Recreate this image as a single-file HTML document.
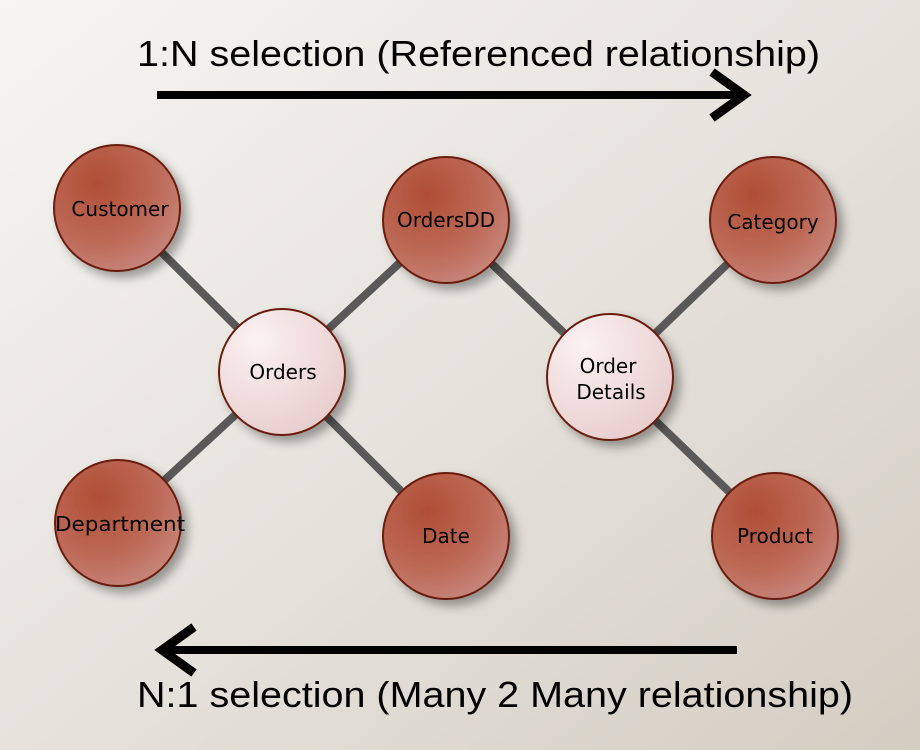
<!DOCTYPE html>
<html><head><meta charset="utf-8"><style>
html,body{margin:0;padding:0;width:920px;height:750px;overflow:hidden}
svg{display:block}
text{font-family:"DejaVu Sans","Liberation Sans",sans-serif}
</style></head><body>
<svg width="920" height="750" viewBox="0 0 920 750" xmlns="http://www.w3.org/2000/svg">
<defs>
<linearGradient id="bg" x1="0" y1="0" x2="1" y2="1">
<stop offset="0" stop-color="#f6f5f2"/><stop offset="0.5" stop-color="#e6e3dd"/><stop offset="1" stop-color="#d4cdc2"/>
</linearGradient>
<radialGradient id="dark" cx="0.35" cy="0.3" r="0.8">
<stop offset="0" stop-color="#b04e34"/><stop offset="0.6" stop-color="#bd6a58"/><stop offset="1" stop-color="#c98a80"/>
</radialGradient>
<radialGradient id="light" cx="0.3" cy="0.25" r="0.85">
<stop offset="0" stop-color="#fbf1f1"/><stop offset="1" stop-color="#e8cccc"/>
</radialGradient>
<filter id="sh" x="-30%" y="-30%" width="170%" height="170%"><feDropShadow dx="6" dy="6" stdDeviation="5" flood-color="#000" flood-opacity="0.35"/></filter>
</defs>
<rect width="920" height="750" fill="url(#bg)"/>
<g stroke="#595959" stroke-width="8">
<line x1="117" y1="208" x2="282" y2="372"/>
<line x1="118" y1="523" x2="282" y2="372"/>
<line x1="446" y1="220" x2="282" y2="372"/>
<line x1="446" y1="536" x2="282" y2="372"/>
<line x1="446" y1="220" x2="610" y2="377"/>
<line x1="773" y1="220" x2="610" y2="377"/>
<line x1="775" y1="536" x2="610" y2="377"/>
</g>
<g stroke="#6b1a10" stroke-width="2" filter="url(#sh)">
<circle cx="117" cy="208" r="63" fill="url(#dark)"/>
<circle cx="446" cy="220" r="63" fill="url(#dark)"/>
<circle cx="773" cy="220" r="63" fill="url(#dark)"/>
<circle cx="118" cy="523" r="63" fill="url(#dark)"/>
<circle cx="446" cy="536" r="63" fill="url(#dark)"/>
<circle cx="775" cy="536" r="63" fill="url(#dark)"/>
<circle cx="282" cy="372" r="63" fill="url(#light)"/>
<circle cx="610" cy="377" r="63" fill="url(#light)"/>
</g>
<g font-size="20" fill="#000" text-anchor="middle">
<text x="120" y="216">Customer</text>
<text x="446" y="227">OrdersDD</text>
<text x="773" y="229">Category</text>
<text x="120" y="531" textLength="130" lengthAdjust="spacingAndGlyphs">Department</text>
<text x="446" y="543">Date</text>
<text x="775" y="543">Product</text>
<text x="283" y="379">Orders</text>
<text x="608" y="373">Order</text>
<text x="611" y="399">Details</text>
</g>
<g font-size="36" fill="#000">
<text x="137" y="66" textLength="683" lengthAdjust="spacingAndGlyphs" style="font-family:'Liberation Sans',sans-serif">1:N selection (Referenced relationship)</text>
<text x="137" y="707" textLength="716" lengthAdjust="spacingAndGlyphs" style="font-family:'Liberation Sans',sans-serif">N:1 selection (Many 2 Many relationship)</text>
</g>
<g stroke="#000" stroke-width="8" fill="none">
<line x1="157" y1="95" x2="740" y2="95"/>
<polyline points="712,72 744,95 712,118" stroke-width="9"/>
<line x1="737" y1="650" x2="165" y2="650"/>
<polyline points="194,627 162,650 194,673" stroke-width="9"/>
</g>
</svg>
</body></html>
